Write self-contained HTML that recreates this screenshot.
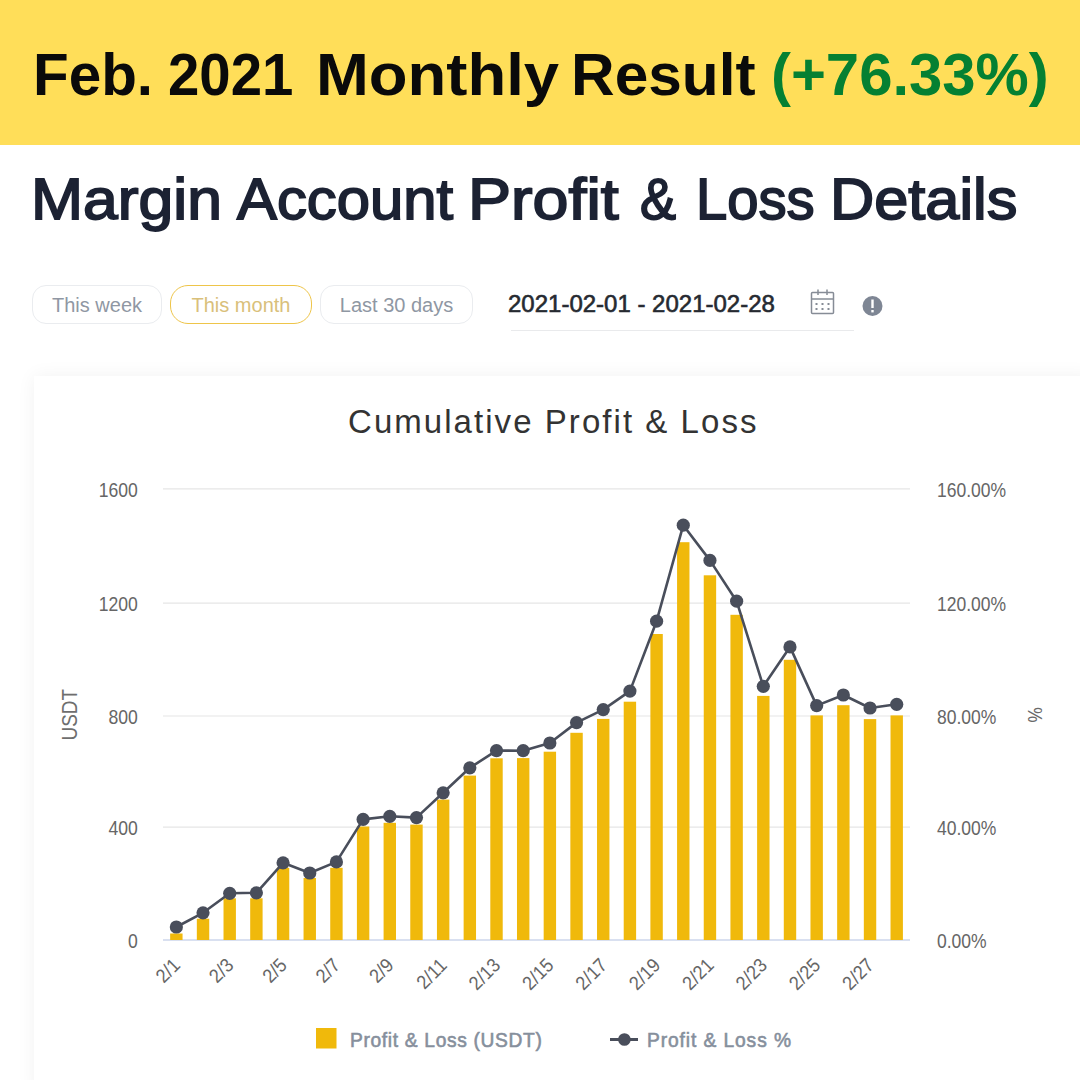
<!DOCTYPE html>
<html><head><meta charset="utf-8">
<style>
html,body{margin:0;padding:0;background:#fff;}
body{width:1080px;height:1080px;overflow:hidden;position:relative;font-family:"Liberation Sans",sans-serif;}
.hdr{position:absolute;left:0;top:0;width:1080px;height:145px;background:#FFDE59;}
.hdr .t{position:absolute;top:41.5px;font-weight:bold;font-size:59px;line-height:67px;color:#0A0A0A;white-space:nowrap;transform-origin:0 0;}
.hdr .t.g{color:#058032;}
.h2{position:absolute;top:165px;transform-origin:0 0;font-weight:normal;font-size:58px;line-height:67px;color:#1C2233;-webkit-text-stroke:1.8px #1C2233;white-space:nowrap;}
.btn{position:absolute;top:285px;height:37px;border:1px solid #EAECEF;border-radius:14px;box-sizing:content-box;color:#8F97A3;font-size:20px;line-height:39px;text-align:center;white-space:nowrap;}
.btn.act{border:1.6px solid #EEC54A;border-radius:18px;color:#D9C07A;top:284.5px;}
.date{position:absolute;left:508px;top:290.3px;font-size:24px;line-height:28px;color:#262A31;white-space:nowrap;-webkit-text-stroke:0.6px #262A31;}
.uline{position:absolute;left:511px;top:330px;width:343px;height:1px;background:#E9EAEC;}
.card{position:absolute;left:34px;top:376px;width:1060px;height:720px;background:#fff;box-shadow:0 0 18px rgba(0,0,0,0.055);}
svg.chart{position:absolute;left:0;top:0;}
.ax{font-size:18px;fill:#666;}
.ax2{font-size:20px;fill:#666;}
.xl{font-size:19.5px;fill:#666;}
.ttl{font-size:33px;fill:#333;}
.lg{font-size:20px;fill:#868F9C;stroke:#868F9C;stroke-width:0.6px;letter-spacing:0.7px;}
</style></head><body>
<div class="hdr"><span class="t" style="left:33.0px;transform:scaleX(0.9903)">Feb.</span><span class="t" style="left:168.4px;transform:scaleX(0.9547)">2021</span><span class="t" style="left:316.0px;transform:scaleX(1.0752)">Monthly</span><span class="t" style="left:570.7px;transform:scaleX(1.0239)">Result</span><span class="t g" style="left:770.6px;transform:scaleX(1.0142)">(+76.33%)</span></div>
<span class="h2" style="left:31.3px;transform:scaleX(1.0772)">Margin</span><span class="h2" style="left:237.0px;transform:scaleX(1.0313)">Account</span><span class="h2" style="left:467.5px;transform:scaleX(1.1136)">Profit</span><span class="h2" style="left:639.5px;transform:scaleX(0.9316)">&amp;</span><span class="h2" style="left:695.5px;transform:scaleX(0.9684)">Loss</span><span class="h2" style="left:829.8px;transform:scaleX(1.0564)">Details</span>
<div class="btn" style="left:32px;width:128px;">This week</div>
<div class="btn act" style="left:170px;width:140px;">This month</div>
<div class="btn" style="left:320px;width:151px;">Last 30 days</div>
<div class="date">2021-02-01 - 2021-02-28</div>
<div class="uline"></div>
<svg style="position:absolute;left:0;top:0" width="1080" height="1080">
  <g fill="none" stroke="#868C96" stroke-width="1.5">
    <rect x="811.5" y="292.5" width="22" height="21" rx="1"/>
    <line x1="811.5" y1="299" x2="833.5" y2="299"/>
    <line x1="818" y1="289.5" x2="818" y2="295"/>
    <line x1="827" y1="289.5" x2="827" y2="295"/>
  </g>
  <g fill="#868C96">
    <rect x="815.5" y="303" width="2" height="2"/><rect x="821.5" y="303" width="2" height="2"/><rect x="827.5" y="303" width="2" height="2"/>
    <rect x="815.5" y="308" width="2" height="2"/><rect x="821.5" y="308" width="2" height="2"/><rect x="827.5" y="308" width="2" height="2"/>
  </g>
  <circle cx="872.5" cy="306" r="10" fill="#7E8694"/>
  <rect x="871.3" y="299.5" width="2.4" height="8.5" fill="#fff"/>
  <rect x="871.3" y="310" width="2.4" height="2.4" fill="#fff"/>
</svg>
<div class="card"></div>
<svg class="chart" width="1080" height="1080">
  <text x="348" y="433" class="ttl" style="letter-spacing:2.05px">Cumulative Profit &amp; Loss</text>
  <text x="0" y="0" text-anchor="end" class="ax2" transform="translate(137.8 948.20) scale(0.88 1)">0</text><text x="0" y="0" class="ax2" transform="translate(937 948.20) scale(0.875 1)">0.00%</text><line x1="163" y1="827.20" x2="910" y2="827.20" stroke="#E6E6E6" stroke-width="1.2"/><text x="0" y="0" text-anchor="end" class="ax2" transform="translate(137.8 835.40) scale(0.88 1)">400</text><text x="0" y="0" class="ax2" transform="translate(937 835.40) scale(0.875 1)">40.00%</text><line x1="163" y1="716.00" x2="910" y2="716.00" stroke="#E6E6E6" stroke-width="1.2"/><text x="0" y="0" text-anchor="end" class="ax2" transform="translate(137.8 724.20) scale(0.88 1)">800</text><text x="0" y="0" class="ax2" transform="translate(937 724.20) scale(0.875 1)">80.00%</text><line x1="163" y1="603.10" x2="910" y2="603.10" stroke="#E6E6E6" stroke-width="1.2"/><text x="0" y="0" text-anchor="end" class="ax2" transform="translate(137.8 611.30) scale(0.88 1)">1200</text><text x="0" y="0" class="ax2" transform="translate(937 611.30) scale(0.875 1)">120.00%</text><line x1="163" y1="488.80" x2="910" y2="488.80" stroke="#E6E6E6" stroke-width="1.2"/><text x="0" y="0" text-anchor="end" class="ax2" transform="translate(137.8 497.00) scale(0.88 1)">1600</text><text x="0" y="0" class="ax2" transform="translate(937 497.00) scale(0.875 1)">160.00%</text>
  <line x1="163" y1="940" x2="910" y2="940" stroke="#CCD6EB" stroke-width="1.5"/>
  <g fill="#F0B90B"><rect x="170.15" y="933.50" width="12.4" height="6.50"/><rect x="196.83" y="918.70" width="12.4" height="21.30"/><rect x="223.51" y="898.30" width="12.4" height="41.70"/><rect x="250.19" y="898.30" width="12.4" height="41.70"/><rect x="276.87" y="867.80" width="12.4" height="72.20"/><rect x="303.55" y="878.00" width="12.4" height="62.00"/><rect x="330.23" y="867.80" width="12.4" height="72.20"/><rect x="356.91" y="826.50" width="12.4" height="113.50"/><rect x="383.59" y="822.80" width="12.4" height="117.20"/><rect x="410.27" y="824.60" width="12.4" height="115.40"/><rect x="436.95" y="799.60" width="12.4" height="140.40"/><rect x="463.63" y="775.60" width="12.4" height="164.40"/><rect x="490.31" y="758.30" width="12.4" height="181.70"/><rect x="516.99" y="758.10" width="12.4" height="181.90"/><rect x="543.67" y="751.70" width="12.4" height="188.30"/><rect x="570.35" y="732.80" width="12.4" height="207.20"/><rect x="597.03" y="718.90" width="12.4" height="221.10"/><rect x="623.71" y="701.70" width="12.4" height="238.30"/><rect x="650.39" y="634.00" width="12.4" height="306.00"/><rect x="677.07" y="542.20" width="12.4" height="397.80"/><rect x="703.75" y="575.30" width="12.4" height="364.70"/><rect x="730.43" y="614.80" width="12.4" height="325.20"/><rect x="757.11" y="695.90" width="12.4" height="244.10"/><rect x="783.79" y="659.80" width="12.4" height="280.20"/><rect x="810.47" y="715.40" width="12.4" height="224.60"/><rect x="837.15" y="705.20" width="12.4" height="234.80"/><rect x="863.83" y="719.10" width="12.4" height="220.90"/><rect x="890.51" y="715.40" width="12.4" height="224.60"/></g>
  <polyline points="176.35,927.00 203.03,912.80 229.71,893.30 256.39,892.80 283.07,862.80 309.75,873.00 336.43,861.90 363.11,819.40 389.79,816.30 416.47,817.60 443.15,792.80 469.83,767.80 496.51,750.60 523.19,750.70 549.87,743.00 576.55,722.60 603.23,709.60 629.91,691.10 656.59,621.20 683.27,525.20 709.95,560.40 736.63,601.20 763.31,686.30 789.99,646.90 816.67,705.60 843.35,695.00 870.03,708.00 896.71,704.30" fill="none" stroke="#494E5B" stroke-width="2.6" stroke-linejoin="round"/>
  <g fill="#494E5B"><circle cx="176.35" cy="927.00" r="6.6"/><circle cx="203.03" cy="912.80" r="6.6"/><circle cx="229.71" cy="893.30" r="6.6"/><circle cx="256.39" cy="892.80" r="6.6"/><circle cx="283.07" cy="862.80" r="6.6"/><circle cx="309.75" cy="873.00" r="6.6"/><circle cx="336.43" cy="861.90" r="6.6"/><circle cx="363.11" cy="819.40" r="6.6"/><circle cx="389.79" cy="816.30" r="6.6"/><circle cx="416.47" cy="817.60" r="6.6"/><circle cx="443.15" cy="792.80" r="6.6"/><circle cx="469.83" cy="767.80" r="6.6"/><circle cx="496.51" cy="750.60" r="6.6"/><circle cx="523.19" cy="750.70" r="6.6"/><circle cx="549.87" cy="743.00" r="6.6"/><circle cx="576.55" cy="722.60" r="6.6"/><circle cx="603.23" cy="709.60" r="6.6"/><circle cx="629.91" cy="691.10" r="6.6"/><circle cx="656.59" cy="621.20" r="6.6"/><circle cx="683.27" cy="525.20" r="6.6"/><circle cx="709.95" cy="560.40" r="6.6"/><circle cx="736.63" cy="601.20" r="6.6"/><circle cx="763.31" cy="686.30" r="6.6"/><circle cx="789.99" cy="646.90" r="6.6"/><circle cx="816.67" cy="705.60" r="6.6"/><circle cx="843.35" cy="695.00" r="6.6"/><circle cx="870.03" cy="708.00" r="6.6"/><circle cx="896.71" cy="704.30" r="6.6"/></g>
  <text x="0" y="0" text-anchor="end" class="xl" transform="translate(181.35 966.5) rotate(-45) scale(0.92 1)">2/1</text><text x="0" y="0" text-anchor="end" class="xl" transform="translate(234.71 966.5) rotate(-45) scale(0.92 1)">2/3</text><text x="0" y="0" text-anchor="end" class="xl" transform="translate(288.07 966.5) rotate(-45) scale(0.92 1)">2/5</text><text x="0" y="0" text-anchor="end" class="xl" transform="translate(341.43 966.5) rotate(-45) scale(0.92 1)">2/7</text><text x="0" y="0" text-anchor="end" class="xl" transform="translate(394.79 966.5) rotate(-45) scale(0.92 1)">2/9</text><text x="0" y="0" text-anchor="end" class="xl" transform="translate(448.15 966.5) rotate(-45) scale(0.92 1)">2/11</text><text x="0" y="0" text-anchor="end" class="xl" transform="translate(501.51 966.5) rotate(-45) scale(0.92 1)">2/13</text><text x="0" y="0" text-anchor="end" class="xl" transform="translate(554.87 966.5) rotate(-45) scale(0.92 1)">2/15</text><text x="0" y="0" text-anchor="end" class="xl" transform="translate(608.23 966.5) rotate(-45) scale(0.92 1)">2/17</text><text x="0" y="0" text-anchor="end" class="xl" transform="translate(661.59 966.5) rotate(-45) scale(0.92 1)">2/19</text><text x="0" y="0" text-anchor="end" class="xl" transform="translate(714.95 966.5) rotate(-45) scale(0.92 1)">2/21</text><text x="0" y="0" text-anchor="end" class="xl" transform="translate(768.31 966.5) rotate(-45) scale(0.92 1)">2/23</text><text x="0" y="0" text-anchor="end" class="xl" transform="translate(821.67 966.5) rotate(-45) scale(0.92 1)">2/25</text><text x="0" y="0" text-anchor="end" class="xl" transform="translate(875.03 966.5) rotate(-45) scale(0.92 1)">2/27</text>
  <text x="0" y="7.7" text-anchor="middle" class="ax" transform="translate(69 714.7) rotate(-90) scale(0.88 1)" style="font-size:21.5px;fill:#6e6e6e">USDT</text>
  <text x="0" y="7.5" text-anchor="middle" class="ax" transform="translate(1036 715) rotate(90) scale(0.82 1)" style="font-size:21px;fill:#6a6a6a">%</text>
  <rect x="316" y="1028" width="20.5" height="20.5" fill="#F0B90B"/>
  <text x="350" y="1047" class="lg" transform="translate(350 0) scale(0.96 1) translate(-350 0)">Profit &amp; Loss (USDT)</text>
  <line x1="610" y1="1039.5" x2="638" y2="1039.5" stroke="#494E5B" stroke-width="3"/>
  <circle cx="624.4" cy="1039.5" r="6.3" fill="#494E5B"/>
  <text x="647" y="1047" class="lg" style="letter-spacing:0.95px" transform="translate(647 0) scale(0.96 1) translate(-647 0)">Profit &amp; Loss %</text>
</svg>
</body></html>
